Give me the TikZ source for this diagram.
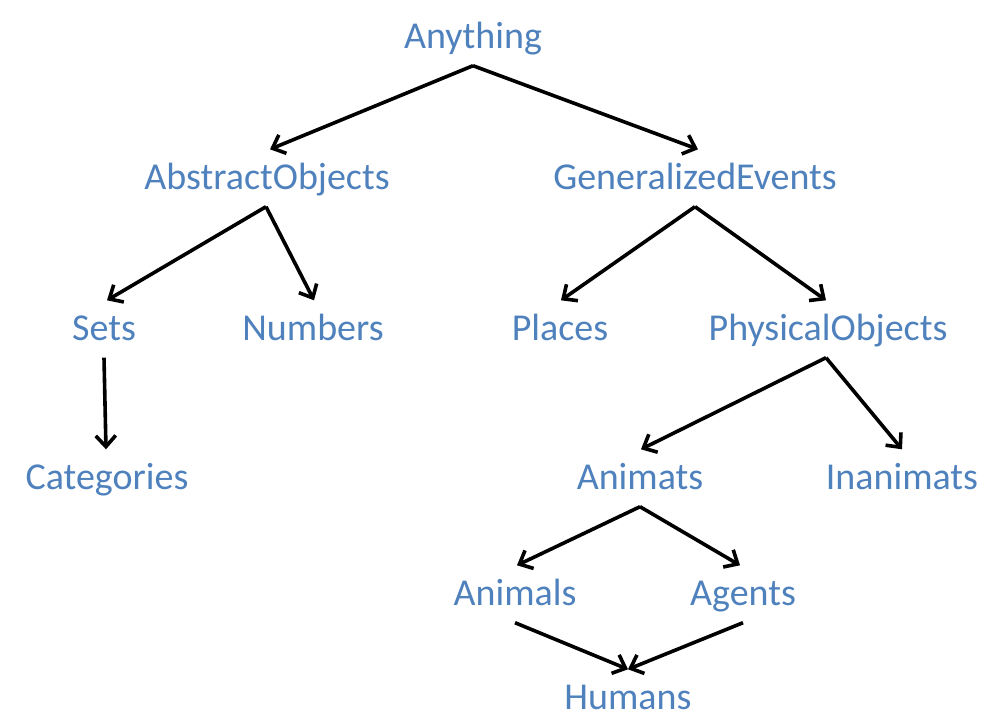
\documentclass[tikz,border=0pt]{standalone}
\usepackage{fontspec}
\setmainfont{Carlito}
\usetikzlibrary{arrows.meta}
\definecolor{lbl}{HTML}{4F81BD}
\tikzset{
  lab/.style={text=lbl, font=\fontsize{38}{42}\selectfont, inner sep=0pt, text height=26pt, text depth=3pt, minimum height=57pt, anchor=center},
  arr/.style={line width=3.6pt, -{Straight Barb[length=11pt,width=20pt,line width=3.6pt]}}
}
\begin{document}
\begin{tikzpicture}[x=1pt,y=-1pt]
\useasboundingbox (0,0) rectangle (1002,724);
\node[lab] (anything) at (473,37) {Anything};
\node[lab] (abstract) at (267,178) {AbstractObjects};
\node[lab] (events) at (695,178) {GeneralizedEvents};
\node[lab] (sets) at (104,329) {Sets};
\node[lab] (numbers) at (313,329) {Numbers};
\node[lab] (places) at (560,329) {Places};
\node[lab] (physical) at (828,329) {PhysicalObjects};
\node[lab] (categories) at (107,478) {Categories};
\node[lab] (animats) at (640,478) {Animats};
\node[lab] (inanimats) at (902,478) {Inanimats};
\node[lab] (animals) at (515,594) {Animals};
\node[lab] (agents) at (743,594) {Agents};
\node[lab] (humans) at (628,698) {Humans};
\draw[arr] (anything.south) -- ([xshift=3pt]abstract.north);
\draw[arr] (anything.south) -- ([xshift=3pt]events.north);
\draw[arr] ([xshift=-1pt]abstract.south) -- ([xshift=3pt]sets.north);
\draw[arr] ([xshift=-1pt]abstract.south) -- ([xshift=1pt]numbers.north);
\draw[arr] (events.south) -- ([xshift=1pt]places.north);
\draw[arr] (events.south) -- ([xshift=-2pt]physical.north);
\draw[arr] (sets.south) -- ([xshift=-1pt]categories.north);
\draw[arr] ([xshift=-2pt]physical.south) -- ([xshift=1pt]animats.north);
\draw[arr] ([xshift=-2pt]physical.south) -- (inanimats.north);
\draw[arr] (animats.south) -- ([xshift=2pt]animals.north);
\draw[arr] (animats.south) -- ([xshift=-3pt]agents.north);
\draw[arr] (animals.south) -- (humans.north);
\draw[arr] (agents.south) -- (humans.north);
\end{tikzpicture}
\end{document}
